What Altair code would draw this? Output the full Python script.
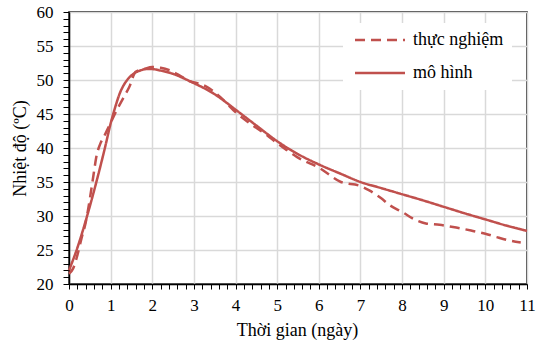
import altair as alt
import pandas as pd

# Experimental (dashed) series
exp_x = [0, 0.1, 0.2, 0.3, 0.4, 0.5, 0.6, 0.65, 0.75, 0.85, 1.0, 1.15, 1.3, 1.45, 1.6, 1.8,
         2.0, 2.2, 2.43, 2.7, 2.91, 3.1, 3.31, 3.63, 4.03, 4.35, 4.75, 5.0, 5.23, 5.47,
         6.03, 6.53, 7.0, 7.2, 7.5, 7.7, 8.0, 8.33, 8.57, 8.9, 9.3, 9.7, 10.0, 10.27, 10.5, 10.85]
exp_y = [21.5, 22.3, 24.2, 26.7, 29.0, 32.5, 36.5, 38.5, 40.6, 41.8, 43.7, 45.6, 47.3, 49.0, 51.2, 51.6,
         51.9, 51.8, 51.4, 50.5, 49.8, 49.5, 49.0, 47.5, 45.1, 43.6, 41.9, 40.7, 39.7, 38.7,
         37.0, 35.0, 34.4, 33.8, 32.6, 31.6, 30.6, 29.4, 28.9, 28.7, 28.3, 27.8, 27.4, 26.9, 26.5, 26.1]

# Model (solid) series
mod_x = [0, 0.2, 0.43, 0.67, 0.87, 1.0, 1.1, 1.23, 1.35, 1.47, 1.6, 1.71, 1.85, 2.0, 2.19, 2.5,
         2.91, 3.5, 4.03, 4.5, 5.0, 5.5, 6.03, 6.53, 7.0, 7.5, 8.0, 8.5, 9.0, 9.5, 10.0, 10.5, 11.0]
mod_y = [22.0, 25.3, 29.9, 35.3, 40.2, 43.6, 45.8, 48.2, 49.6, 50.5, 51.1, 51.4, 51.6, 51.6, 51.4, 50.9,
         49.8, 47.9, 45.5, 43.3, 41.0, 39.1, 37.5, 36.2, 35.0, 34.1, 33.2, 32.3, 31.35, 30.4, 29.5, 28.6, 27.8]

series_names = ["thực nghiệm", "mô hình"]
x_tick_values = [round(i * 0.2, 1) for i in range(56)]
y_tick_values = list(range(20, 61))

df = pd.concat([
    pd.DataFrame({"x": exp_x, "y": exp_y, "series": series_names[0], "ord": range(len(exp_x))}),
    pd.DataFrame({"x": mod_x, "y": mod_y, "series": series_names[1], "ord": range(len(mod_x))}),
])

RED = "#C0504D"
FONT = "Liberation Serif, Times New Roman, DejaVu Serif, serif"

x_axis = alt.Axis(
    values=x_tick_values,
    labelExpr="abs(datum.value - round(datum.value)) < 0.001 ? format(datum.value, 'd') : ''",
    gridOpacity={"condition": {"test": "abs(datum.value - round(datum.value)) < 0.001", "value": 1}, "value": 0},
    title="Thời gian (ngày)",
    titleX=228, titleY=51, titleAlign="center", titleBaseline="alphabetic",
    tickSize=5, labelPadding=8, labelFlush=False, labelOverlap=False,
    labelFont=FONT, titleFont=FONT,
)
y_axis = alt.Axis(
    values=y_tick_values,
    labelExpr="datum.value % 5 === 0 ? datum.label : ''",
    gridOpacity={"condition": {"test": "datum.value % 5 === 0", "value": 1}, "value": 0},
    title="Nhiệt độ (ºC)",
    titleX=-44, titleY=136, titleAlign="center", titleBaseline="alphabetic", titleAngle=270,
    tickSize=6, labelPadding=10, labelFlush=False, labelOverlap=False,
    labelFont=FONT, titleFont=FONT,
)

chart = alt.Chart(df).mark_line(strokeWidth=2.5, interpolate="monotone").encode(
    x=alt.X("x:Q", scale=alt.Scale(domain=[0, 11], nice=False, zero=False), axis=x_axis),
    y=alt.Y("y:Q", scale=alt.Scale(domain=[20, 60], nice=False, zero=False), axis=y_axis),
    color=alt.Color("series:N", scale=alt.Scale(domain=series_names, range=[RED, RED]),
                    legend=alt.Legend(title=None, orient="none", legendX=274, legendY=11,
                                      fillColor="white", padding=8, symbolType="M-1,0H9",
                                      symbolSize=100, symbolStrokeWidth=2.5,
                                      labelFont=FONT, labelFontSize=18, labelColor="#000",
                                      rowPadding=15, labelOffset=44)),
    strokeDash=alt.StrokeDash("series:N", scale=alt.Scale(domain=series_names, range=[[10, 6], [1, 0]]),
                              legend=alt.Legend(title=None, orient="none", legendX=274, legendY=11)),
    detail="series:N",
    order="ord:Q",
).properties(
    width=458, height=272,
    autosize=alt.AutoSizeParams(type="none"),
    padding={"left": 69, "top": 12, "right": 11, "bottom": 60},
).configure_view(
    stroke="#000", strokeWidth=1.5
).configure_axis(
    labelFont=FONT, labelFontSize=17, labelColor="#000",
    titleFont=FONT, titleFontSize=18, titleFontWeight="normal", titleColor="#000",
    domainColor="#000", domainWidth=1.5, tickColor="#000", tickWidth=1,
    gridColor="#d9d9d9", gridWidth=1.5,
).configure_legend(
    labelFont=FONT
)

chart.save("out.html", embed_options={"renderer": "svg", "actions": False})
